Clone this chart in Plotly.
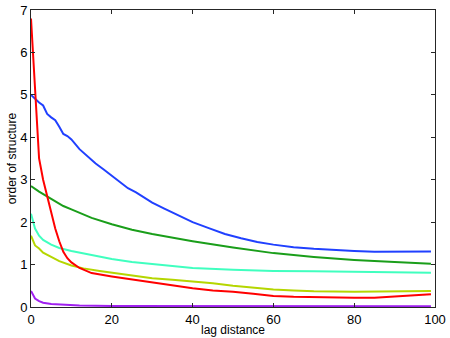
import plotly.graph_objects as go

blue_x = [0, 1, 2, 3, 4, 5, 6, 7, 8, 9, 10, 12, 14, 16, 18, 20, 22, 24, 26, 28, 30, 33, 36, 40, 44, 48, 52, 56, 60, 65, 70, 75, 80, 85, 90, 95, 99]
blue_y = [5.0, 4.9, 4.82, 4.75, 4.55, 4.47, 4.4, 4.25, 4.08, 4.03, 3.95, 3.72, 3.55, 3.38, 3.24, 3.1, 2.96, 2.8, 2.7, 2.57, 2.46, 2.32, 2.18, 2.0, 1.86, 1.72, 1.62, 1.53, 1.47, 1.41, 1.37, 1.34, 1.32, 1.30, 1.30, 1.30, 1.31]

green_x = [0, 2, 5, 8, 10, 15, 20, 25, 30, 35, 40, 50, 60, 70, 80, 90, 99]
green_y = [2.85, 2.72, 2.55, 2.38, 2.3, 2.1, 1.95, 1.82, 1.72, 1.63, 1.55, 1.4, 1.27, 1.18, 1.11, 1.06, 1.02]

cyan_x = [0, 1, 2, 3, 5, 7, 10, 13, 16, 20, 25, 30, 35, 40, 50, 60, 70, 80, 90, 99]
cyan_y = [2.2, 1.85, 1.68, 1.58, 1.47, 1.39, 1.32, 1.26, 1.2, 1.13, 1.06, 1.01, 0.96, 0.92, 0.88, 0.85, 0.84, 0.83, 0.82, 0.81]

yellow_x = [0, 1, 2, 3, 5, 7, 10, 13, 17, 21, 25, 30, 35, 40, 45, 50, 55, 60, 65, 70, 80, 90, 99]
yellow_y = [1.68, 1.45, 1.38, 1.28, 1.18, 1.08, 0.98, 0.91, 0.85, 0.8, 0.74, 0.68, 0.64, 0.6, 0.56, 0.5, 0.45, 0.41, 0.39, 0.37, 0.36, 0.37, 0.38]

red_x = [0, 1, 2, 3, 4, 5, 6, 7, 8, 9, 10, 12, 15, 20, 25, 30, 35, 40, 45, 50, 55, 60, 65, 70, 75, 80, 85, 90, 95, 99]
red_y = [6.8, 5.0, 3.5, 3.0, 2.6, 2.2, 1.85, 1.55, 1.3, 1.15, 1.05, 0.92, 0.8, 0.72, 0.65, 0.57, 0.5, 0.44, 0.39, 0.36, 0.31, 0.26, 0.24, 0.23, 0.23, 0.22, 0.22, 0.25, 0.27, 0.3]

purple_x = [0, 1, 2, 3, 5, 8, 12, 20, 40, 99]
purple_y = [0.38, 0.2, 0.14, 0.1, 0.07, 0.05, 0.035, 0.025, 0.02, 0.02]

x_ticks = [0, 20, 40, 60, 80, 100]
y_ticks = [0, 1, 2, 3, 4, 5, 6, 7]

series = [
    (purple_x, purple_y, "#a020f0"),
    (yellow_x, yellow_y, "#b5d600"),
    (cyan_x, cyan_y, "#40ffbf"),
    (green_x, green_y, "#1a9e1a"),
    (blue_x, blue_y, "#2040ff"),
    (red_x, red_y, "#ff0000"),
]

fig = go.Figure()
for xs, ys, c in series:
    fig.add_trace(go.Scatter(x=xs, y=ys, mode="lines", line=dict(color=c, width=2), showlegend=False))

axis_common = dict(
    showline=True, linecolor="#262626", linewidth=1, mirror="ticks",
    ticks="inside", ticklen=4, tickcolor="#262626", tickwidth=1,
    showgrid=False, zeroline=False, automargin=False,
    tickfont=dict(family="Liberation Sans, Arial, sans-serif", size=13, color="black"),
)

fig.update_layout(
    width=450, height=338,
    margin=dict(l=28, r=15, t=10, b=31),
    paper_bgcolor="white", plot_bgcolor="white",
    font=dict(family="Liberation Sans, Arial, sans-serif", size=12, color="black"),
    xaxis=dict(range=[0, 100], tickvals=x_ticks, title=dict(text="lag distance", standoff=0, font=dict(size=12)), **axis_common),
    yaxis=dict(range=[0, 7], tickvals=y_ticks, title=dict(text="order of structure", standoff=0, font=dict(size=12)), **axis_common),
)
fig.update_layout(margin=dict(l=31))

fig.write_html("out.html", config={"displayModeBar": False},
               post_script="document.body.style.margin='0';")
